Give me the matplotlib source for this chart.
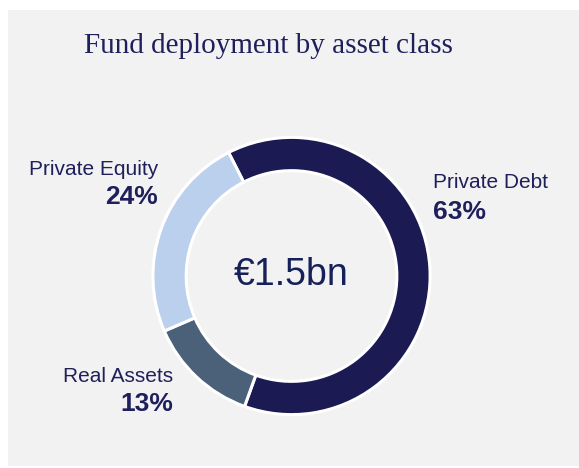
import matplotlib.pyplot as plt
from matplotlib.patches import Rectangle

# values
classes = ['Private Debt', 'Real Assets', 'Private Equity']
shares = [63, 13, 24]
colors = ['#1b1a52', '#4a6179', '#bad0ed']
total_label = '€1.5bn'
title = 'Fund deployment by asset class'

W, H = 579, 468
navy = '#1f1f5c'

fig = plt.figure(figsize=(W / 100, H / 100), dpi=100, facecolor='white')


def px(x, y):
    # pixel coords (origin top-left) -> figure fraction
    return x / W, 1 - y / H


# grey panel
fig.patches.append(Rectangle(px(8, 466), (W - 8) / W, 456 / H,
                             transform=fig.transFigure, facecolor='#f2f2f2',
                             edgecolor='none', zorder=-5))

# donut
cx, cy, r = 291.5, 276, 140
ax = fig.add_axes([(cx - r) / W, (H - cy - r) / H, 2 * r / W, 2 * r / H])
ax.set_zorder(2)
ax.set_facecolor('none')
ax.pie(shares, colors=colors, startangle=117, counterclock=False, radius=1,
       wedgeprops=dict(width=0.24, edgecolor='white', linewidth=2.2))
ax.set_xlim(-1.01, 1.01)
ax.set_ylim(-1.01, 1.01)
ax.axis('off')
ax.text(0, 0.01, total_label, ha='center', va='center', fontsize=27,
        color='#16215a', family='Liberation Sans')

fig.text(*px(268, 53), title, ha='center', va='baseline', fontsize=21,
         color=navy, family='Liberation Serif')

# labels: (name, value, x, name baseline, value baseline, align)
labels = [
    (classes[2], shares[2], 158, 175, 204, 'right'),
    (classes[0], shares[0], 433, 188, 219, 'left'),
    (classes[1], shares[1], 173, 382, 411, 'right'),
]
for name, val, x, yn, yv, ha in labels:
    fig.text(*px(x, yn), name, ha=ha, va='baseline', fontsize=15,
             color=navy, family='Liberation Sans')
    fig.text(*px(x, yv), f'{val}%', ha=ha, va='baseline', fontsize=19,
             fontweight='bold', color=navy, family='Liberation Sans')

fig.savefig('out.png', dpi=100, facecolor='white')
